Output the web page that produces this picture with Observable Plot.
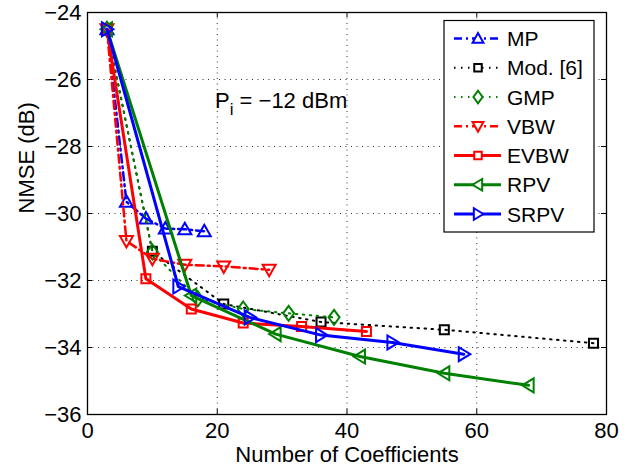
<!DOCTYPE html>
<html><head><meta charset="utf-8">
<script src="https://cdn.jsdelivr.net/npm/d3@7"></script>
<script src="https://cdn.jsdelivr.net/npm/@observablehq/plot@0.6"></script>
<style>body{margin:0;background:#fff} svg{display:block}</style>
</head><body><div id="chart"></div>
<script>
// ---- data ----
const seriesNames = ["MP", "Mod. [6]", "GMP", "VBW", "EVBW", "RPV", "SRPV"];
const mpX = [3, 6, 9, 12, 15, 18];
const mpY = [-24.5, -29.65, -30.15, -30.45, -30.47, -30.53];
const modX = [3, 10, 21, 36, 55, 78];
const modY = [-24.5, -31.13, -32.7, -33.24, -33.47, -33.87];
const gmpX = [3, 10, 17, 24, 31, 38];
const gmpY = [-24.5, -31.15, -32.55, -32.85, -32.98, -33.1];
const vbwX = [3, 6, 10, 15, 21, 28];
const vbwY = [-24.5, -30.82, -31.35, -31.53, -31.58, -31.68];
const evbwX = [3, 9, 16, 24, 33, 43];
const evbwY = [-24.5, -31.95, -32.85, -33.27, -33.37, -33.52];
const rpvX = [3, 16, 29, 42, 55, 68];
const rpvY = [-24.5, -32.45, -33.6, -34.27, -34.77, -35.13];
const srpvX = [3, 14, 25, 36, 47, 58];
const srpvY = [-24.5, -32.18, -33.1, -33.63, -33.85, -34.2];
const xTicks = [0, 20, 40, 60, 80];
const yTicks = [-36, -34, -32, -30, -28, -26, -24];
const annotation = {main: "P", sub: "i", rest: " = \u221212 dBm"};
const xLabel = "Number of Coefficients";
const yLabel = "NMSE (dB)";

// ---- symbols ----
function poly(pts) {
  return {draw(ctx, size) {
    const r = Math.sqrt(size / Math.PI) / 6;
    ctx.moveTo(pts[0][0] * r, pts[0][1] * r);
    for (let i = 1; i < pts.length; i++) ctx.lineTo(pts[i][0] * r, pts[i][1] * r);
    ctx.closePath();
  }};
}
const symUp = poly([[0, -6.5], [6.5, 5], [-6.5, 5]]);
const symDown = poly([[0, 6.5], [6.5, -5], [-6.5, -5]]);
const symLeft = poly([[-6.5, 0], [5, -7], [5, 7]]);
const symRight = poly([[6.5, 0], [-5, -7], [-5, 7]]);
const symSquare = poly([[-4.5, -4.5], [4.5, -4.5], [4.5, 4.5], [-4.5, 4.5]]);
const symDiamond = poly([[0, -7.5], [5.5, 0], [0, 7.5], [-5.5, 0]]);

const styles = [
  {xs: mpX, ys: mpY, color: "#0000ff", width: 2.5, dash: "8,4,2,4", sym: symUp},
  {xs: modX, ys: modY, color: "#000000", width: 2, dash: "1.5,5.5", sym: symSquare},
  {xs: gmpX, ys: gmpY, color: "#008000", width: 2, dash: "1.5,5.5", sym: symDiamond},
  {xs: vbwX, ys: vbwY, color: "#ff0000", width: 2.5, dash: "8,4,2,4", sym: symDown},
  {xs: evbwX, ys: evbwY, color: "#ff0000", width: 3, dash: null, sym: symSquare},
  {xs: rpvX, ys: rpvY, color: "#008000", width: 3, dash: null, sym: symLeft},
  {xs: srpvX, ys: srpvY, color: "#0000ff", width: 3, dash: null, sym: symRight}
];

const W = 631, H = 471;
const mL = 87, mR = 25, mT = 12, mB = 57;
const pxPerY = (H - mT - mB) / (yTicks[yTicks.length - 1] - yTicks[0]);
const pxPerX = (W - mL - mR) / (xTicks[xTicks.length - 1] - xTicks[0]);
const tY = 5 / pxPerY, tX = 5 / pxPerX;
const x0 = xTicks[0], x1 = xTicks[xTicks.length - 1];
const y0 = yTicks[0], y1 = yTicks[yTicks.length - 1];
const font = "'Liberation Sans', Arial, Helvetica, sans-serif";
const fmt = d => String(d).replace("-", "\u2212");

const marks = [
  Plot.ruleY(yTicks.slice(1, -1), {stroke: "#333", strokeWidth: 1, strokeDasharray: "1,4.5"}),
  Plot.ruleX(xTicks.slice(1, -1), {stroke: "#333", strokeWidth: 1, strokeDasharray: "1,4.5"}),
  Plot.ruleY(yTicks, {x1: x0, x2: x0 + tX, stroke: "black"}),
  Plot.ruleY(yTicks, {x1: x1 - tX, x2: x1, stroke: "black"}),
  Plot.ruleX(xTicks, {y1: y0, y2: y0 + tY, stroke: "black"}),
  Plot.ruleX(xTicks, {y1: y1 - tY, y2: y1, stroke: "black"})
];
for (const s of styles) {
  const rows = s.xs.map((x, i) => ({x, y: s.ys[i]}));
  marks.push(Plot.line(rows, {x: "x", y: "y", stroke: s.color, strokeWidth: s.width,
    strokeDasharray: s.dash || undefined, strokeLinejoin: "round"}));
  marks.push(Plot.dot(rows, {x: "x", y: "y", symbol: s.sym, r: 6, stroke: s.color,
    strokeWidth: 2, fill: "none"}));
}
marks.push(Plot.frame({stroke: "black", strokeWidth: 1.3}));
marks.push(Plot.text([xLabel], {frameAnchor: "bottom", dy: 47, fontSize: 22, fill: "black"}));
marks.push(Plot.text([yLabel], {frameAnchor: "left", dx: -61, rotate: -90, fontSize: 22, fill: "black"}));

const chart = Plot.plot({
  width: W, height: H,
  marginLeft: mL, marginRight: mR, marginTop: mT, marginBottom: mB,
  style: {fontSize: "22px", fontFamily: font, color: "black", background: "white", overflow: "visible"},
  x: {domain: [x0, x1], ticks: xTicks, tickSize: 0, tickPadding: 8, tickFormat: fmt, label: null},
  y: {domain: [y0, y1], ticks: yTicks, tickSize: 0, tickPadding: 6, tickFormat: fmt, label: null},
  marks
});
document.getElementById("chart").appendChild(chart);

// ---- annotation and legend ----
const svg = d3.select(chart);
const ann = svg.append("text").attr("x", 215).attr("y", 108).attr("text-anchor", "start")
  .attr("font-family", font).attr("font-size", 22).attr("fill", "black");
ann.append("tspan").text(annotation.main);
ann.append("tspan").attr("dy", 7).attr("font-size", 17).text(annotation.sub);
ann.append("tspan").attr("dy", -7).text(annotation.rest);

const lg = svg.append("g");
lg.append("rect").attr("x", 444).attr("y", 20.5).attr("width", 150).attr("height", 211.5)
  .attr("fill", "white").attr("stroke", "black").attr("stroke-width", 1.2);
styles.forEach((s, i) => {
  const yy = 38.5 + i * 29.25;
  lg.append("line").attr("x1", 454).attr("x2", 501).attr("y1", yy).attr("y2", yy)
    .attr("stroke", s.color).attr("stroke-width", s.width)
    .attr("stroke-dasharray", s.dash);
  const p = d3.path();
  s.sym.draw(p, Math.PI * 25);
  lg.append("path").attr("d", p.toString()).attr("transform", `translate(478,${yy})`)
    .attr("fill", "white").attr("stroke", s.color).attr("stroke-width", 2);
  lg.append("text").attr("x", 507).attr("y", yy).attr("dy", "0.36em").attr("text-anchor", "start")
    .attr("font-family", font).attr("font-size", 21).attr("fill", "black").text(seriesNames[i]);
});
</script>
</body></html>
